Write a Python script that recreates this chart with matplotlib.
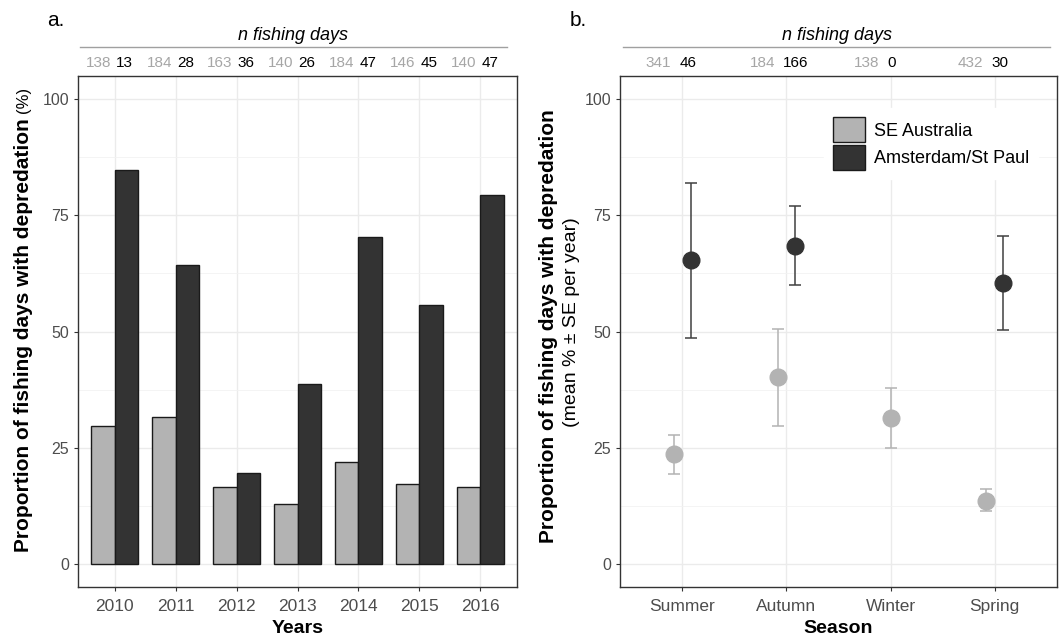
import numpy as np
import matplotlib.pyplot as plt
from matplotlib.patches import Patch

plt.rcParams['font.family'] = ['Liberation Sans', 'DejaVu Sans']

# === DATOS ===
years = ['2010', '2011', '2012', '2013', '2014', '2015', '2016']
se_aus_pct = [29.7, 31.5, 16.6, 12.9, 22.0, 17.2, 16.6]
ams_pct = [84.7, 64.4, 19.6, 38.6, 70.3, 55.8, 79.3]
n_se_year = [138, 184, 163, 140, 184, 146, 140]
n_ams_year = [13, 28, 36, 26, 47, 45, 47]

seasons = ['Summer', 'Autumn', 'Winter', 'Spring']
se_mean = [23.6, 40.1, 31.3, 13.5]
se_low = [19.3, 29.6, 24.9, 11.3]
se_high = [27.7, 50.6, 37.8, 16.0]
ams_mean = [65.4, 68.5, np.nan, 60.5]
ams_low = [48.6, 60.0, np.nan, 50.4]
ams_high = [81.9, 77.0, np.nan, 70.5]
n_se_season = [341, 184, 138, 432]
n_ams_season = [46, 166, 0, 30]

groups = ['SE Australia', 'Amsterdam/St Paul']

# === ESTILO ===
c_light = '#B3B3B3'
c_dark = '#333333'
c_tick = '#4D4D4D'
c_grid = '#EBEBEB'
c_n = '#A6A6A6'

W, H = 1063, 636
fig = plt.figure(figsize=(W / 100, H / 100), dpi=100)


def px(x0, y0, x1, y1):
    return [x0 / W, 1 - y1 / H, (x1 - x0) / W, (y1 - y0) / H]


def style_axes(ax, ncat):
    ax.set_xlim(0.4 - 1, ncat - 1 + 0.6)
    ax.set_ylim(-5, 105)
    ax.set_yticks([0, 25, 50, 75, 100])
    ax.set_yticks([12.5, 37.5, 62.5, 87.5], minor=True)
    ax.set_xticks(range(ncat))
    ax.grid(which='major', color=c_grid, lw=1.0, zorder=0)
    ax.grid(which='minor', axis='y', color='#F2F2F2', lw=0.6, zorder=0)
    ax.set_axisbelow(True)
    for s in ax.spines.values():
        s.set_color(c_dark)
        s.set_linewidth(1.0)
    ax.tick_params(which='major', colors=c_dark, labelcolor=c_tick,
                   length=3, width=0.8)
    ax.tick_params(axis='x', labelsize=12.5, pad=5.8)
    ax.tick_params(axis='y', labelsize=11.5)
    ax.tick_params(which='minor', length=0)


# === PANEL a ===
ax1 = fig.add_axes(px(78, 76, 517, 587))
x = np.arange(len(years))
bw = 0.385
ax1.bar(x - bw / 2, se_aus_pct, bw, color=c_light, edgecolor='#1A1A1A', lw=1.0, zorder=3)
ax1.bar(x + bw / 2, ams_pct, bw, color=c_dark, edgecolor='#1A1A1A', lw=1.0, zorder=3)
style_axes(ax1, len(years))
ax1.set_xticklabels(years)
ax1.set_xlabel('Years', fontsize=14, fontweight='bold', labelpad=4)

ny = 1 + 9 / 511
for i in range(len(years)):
    ax1.text(i - 0.06, ny, str(n_se_year[i]), transform=ax1.get_xaxis_transform(),
             ha='right', va='baseline', fontsize=11, color=c_n)
    ax1.text(i + 0.02, ny, str(n_ams_year[i]), transform=ax1.get_xaxis_transform(),
             ha='left', va='baseline', fontsize=11, color='black')

# === PANEL b ===
ax2 = fig.add_axes(px(620, 76, 1057, 587))
xs = np.arange(len(seasons))
dodge = 0.08
for i in range(len(seasons)):
    has_ams = not np.isnan(ams_mean[i])
    xg = xs[i] - dodge if has_ams else xs[i]
    ax2.errorbar(xg, se_mean[i], yerr=[[se_mean[i] - se_low[i]], [se_high[i] - se_mean[i]]],
                 fmt='o', ms=12, color=c_light, ecolor=c_light, elinewidth=1.1,
                 capsize=4, capthick=1.1, zorder=3)
    if has_ams:
        ax2.errorbar(xs[i] + dodge, ams_mean[i],
                     yerr=[[ams_mean[i] - ams_low[i]], [ams_high[i] - ams_mean[i]]],
                     fmt='o', ms=12, color=c_dark, ecolor='#404040', elinewidth=1.1,
                     capsize=4, capthick=1.1, zorder=3)
style_axes(ax2, len(seasons))
ax2.set_xticklabels(seasons)
ax2.set_xlabel('Season', fontsize=14, fontweight='bold', labelpad=4)

for i in range(len(seasons)):
    ax2.text(i - 0.11, ny, str(n_se_season[i]), transform=ax2.get_xaxis_transform(),
             ha='right', va='baseline', fontsize=11, color=c_n)
    ax2.text(i - 0.03, ny, str(n_ams_season[i]), transform=ax2.get_xaxis_transform(),
             ha='left', va='baseline', fontsize=11, color='black')

handles = [Patch(facecolor=c_light, edgecolor='#1A1A1A', lw=1.0),
           Patch(facecolor=c_dark, edgecolor='#1A1A1A', lw=1.0)]
leg = ax2.legend(handles, groups, loc='upper left', bbox_to_anchor=(0.467, 0.937),
                 fontsize=13, frameon=True, handlelength=1.75, handleheight=1.75,
                 labelspacing=0.15, handletextpad=0.5, borderpad=0.5,
                 borderaxespad=0)
leg.get_frame().set_facecolor('white')
leg.get_frame().set_edgecolor('white')
leg.get_frame().set_alpha(1)

# === ENCABEZADOS n fishing days ===
for (x0, x1) in [(80, 507), (623, 1050)]:
    fig.add_artist(plt.Line2D([x0 / W, x1 / W], [1 - 47 / H, 1 - 47 / H],
                              color='#A0A0A0', lw=1.0))
    fig.text((x0 + x1) / 2 / W, 1 - 35 / H, 'n fishing days', ha='center',
             va='center', fontsize=13, style='italic')

fig.text(56 / W, 1 - 20 / H, 'a.', ha='center', va='center', fontsize=15)
fig.text(578 / W, 1 - 20 / H, 'b.', ha='center', va='center', fontsize=15)

# === ETIQUETAS EJE Y ===
fig.text(23.5 / W, 1 - 335.5 / H, 'Proportion of fishing days with depredation',
         rotation=90, ha='center', va='center', fontsize=15, fontweight='bold')
fig.text(24 / W, 1 - 113 / H, '(%)', rotation=90, rotation_mode='anchor',
         ha='left', va='center', fontsize=12)

fig.text(548.5 / W, 1 - 326 / H, 'Proportion of fishing days with depredation',
         rotation=90, ha='center', va='center', fontsize=15, fontweight='bold')
fig.text(571.5 / W, 1 - 322 / H, '(mean % \u00b1 SE per year)',
         rotation=90, ha='center', va='center', fontsize=14)

fig.savefig('out.png', dpi=100)
